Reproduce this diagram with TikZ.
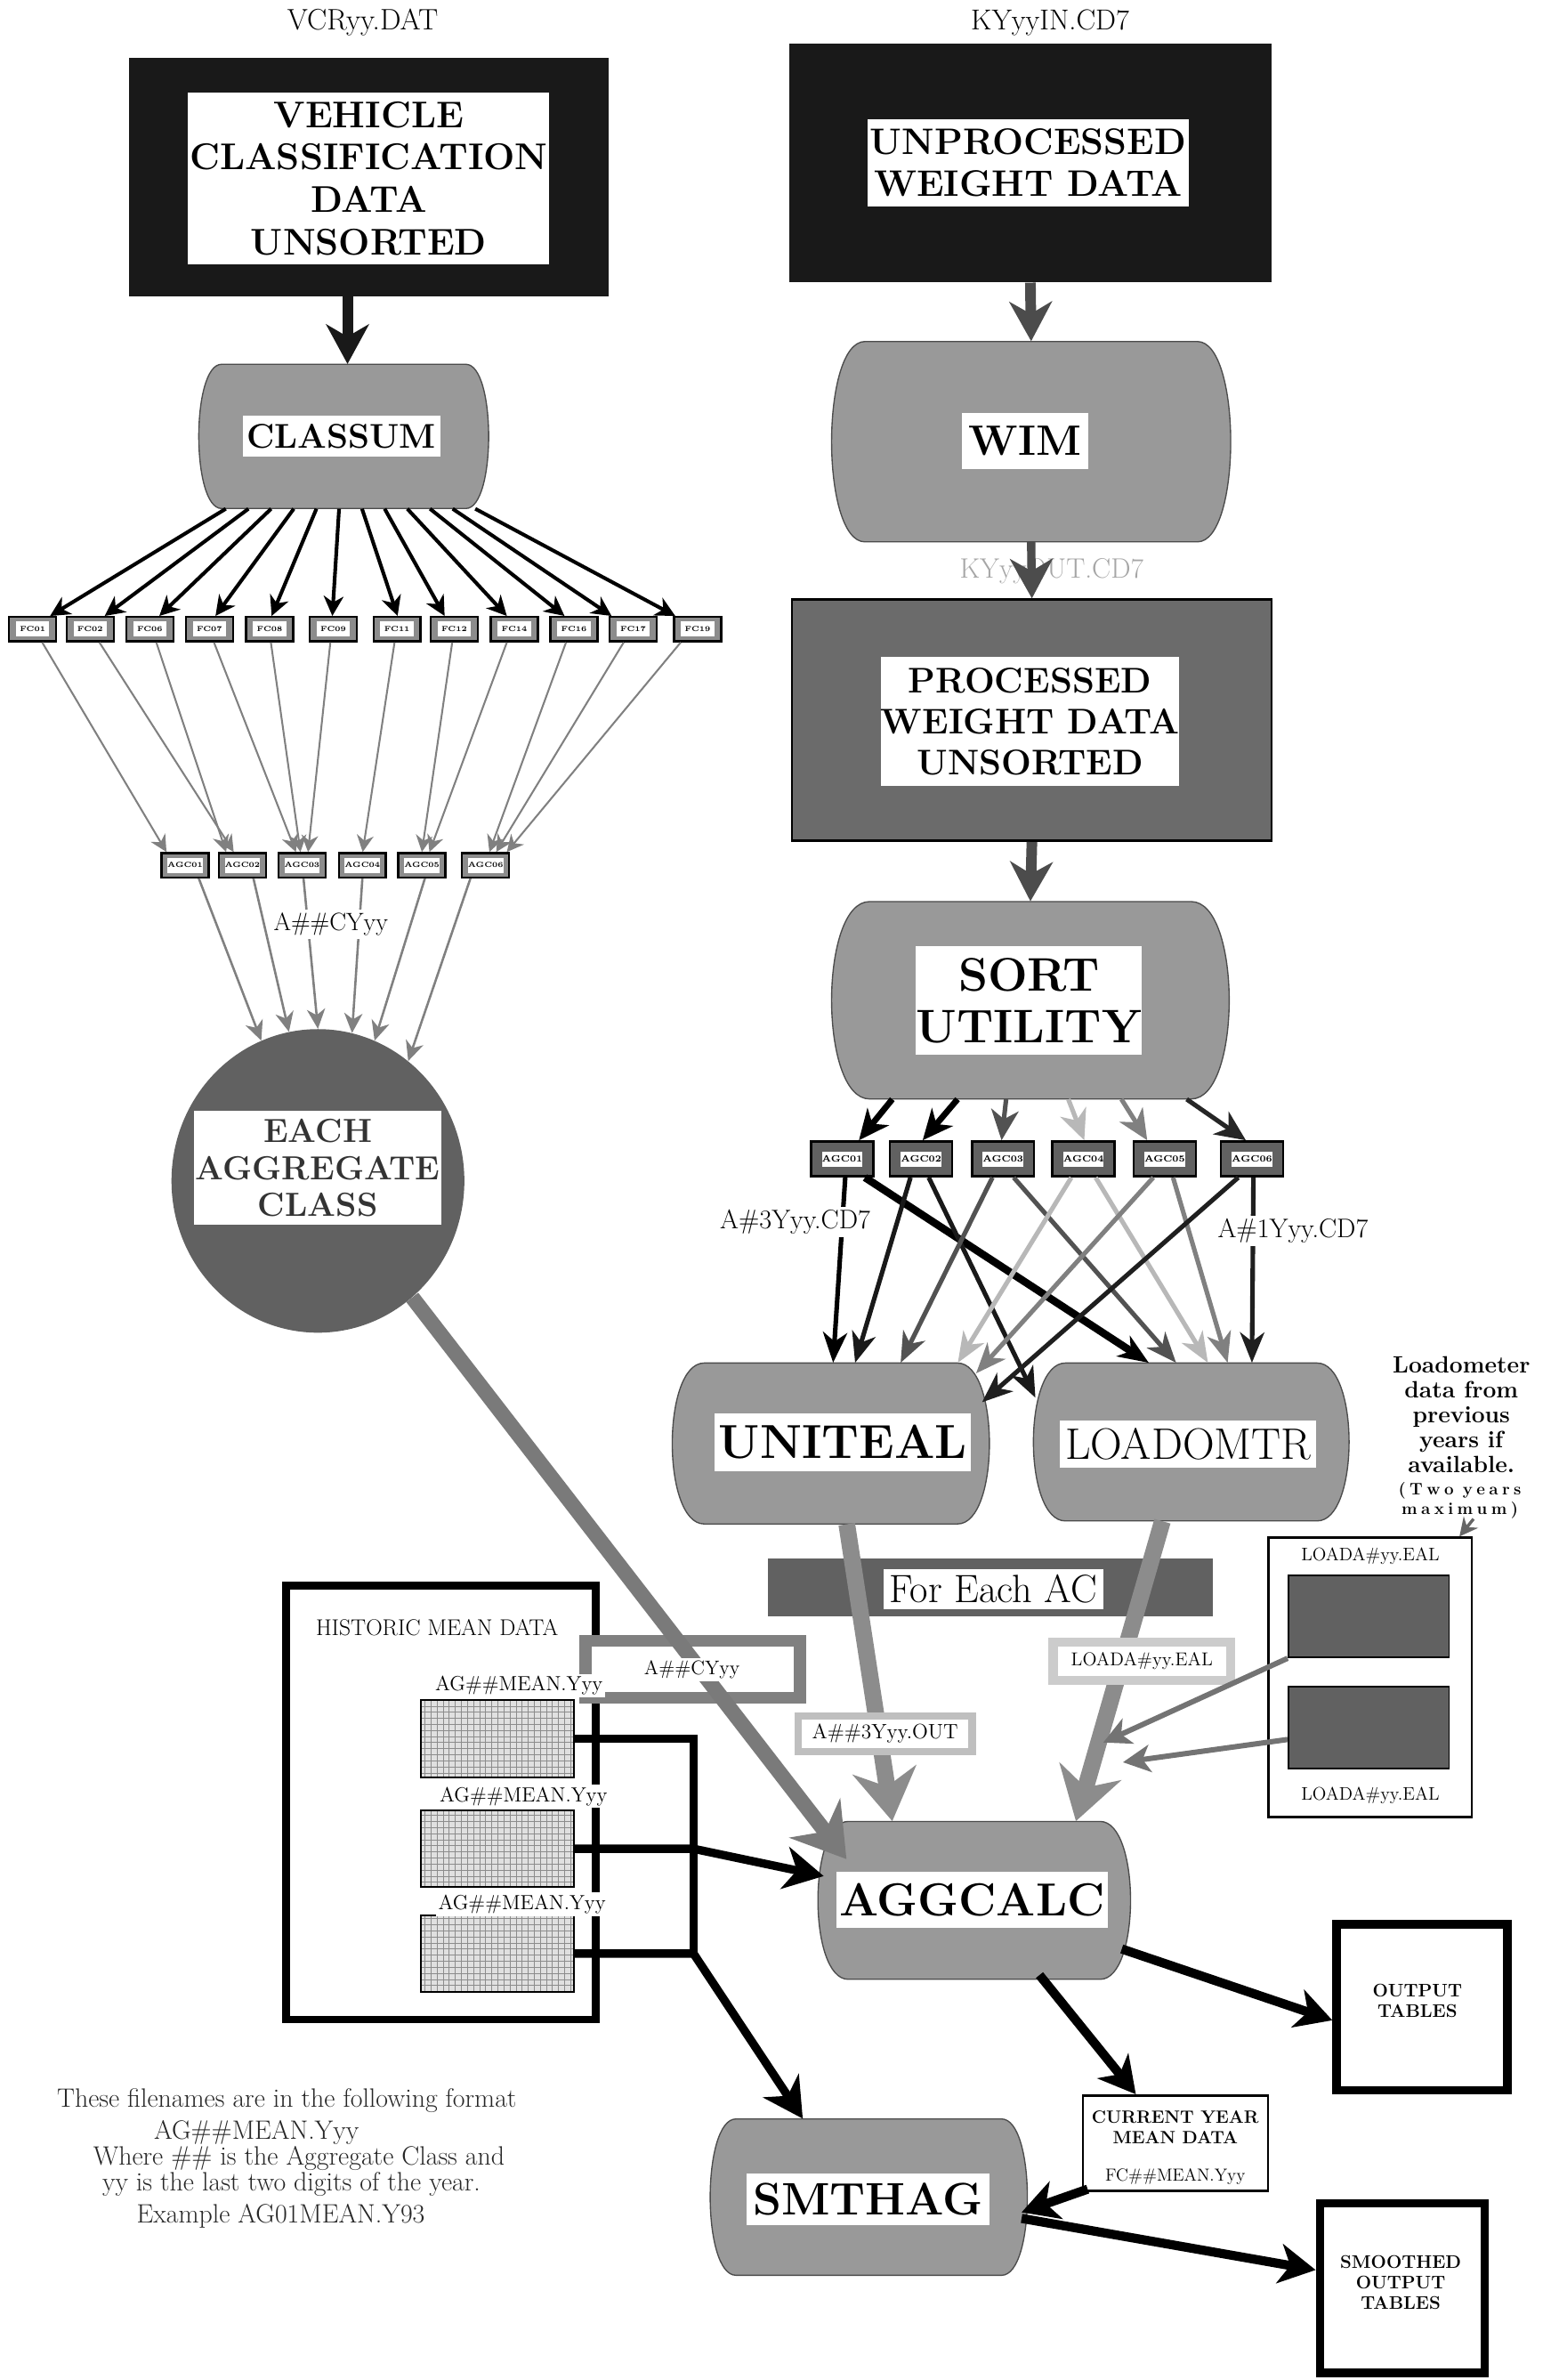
\documentclass[tikz,border=0pt]{standalone}
\usepackage{fontspec}
\usetikzlibrary{arrows.meta,calc,shapes.geometric}
\newcommand\fsz[2]{\fontsize{#1}{#2}\selectfont}
\newcommand\ks{\kern2.6pt}
\newcommand\rnode[6][]{\node[rectangle,inner sep=0pt,minimum width={(#5-#3)*1pt},minimum height={(#6-#4)*1pt},#1] (#2) at ({(#3+#5)/2},{(#4+#6)/2})}
\newcommand\barrel[6]{%
  \filldraw[barrelsty] ({#2+#6},#3) -- ({#4-#6},#3)
    .. controls ({#4+#6/3},#3) and ({#4+#6/3},#5) .. ({#4-#6},#5)
    -- ({#2+#6},#5)
    .. controls ({#2-#6/3},#5) and ({#2-#6/3},#3) .. cycle;
  \rnode{#1}{#2}{#3}{#4}{#5} {};}
\tikzset{
  barrelsty/.style={fill=black!40,draw=black!70,line width=0.8pt},
  tl/.style={fill=white,inner sep=0pt,align=center},
  smbox/.style={draw=black,line width=1.4pt,fill=black!45,minimum width=31pt,minimum height=16pt,inner sep=0pt},
  smin/.style={fill=white,inner sep=0pt,minimum width=22pt,minimum height=10pt,font=\bfseries\fsz{4.8}{5}},
  agrbox/.style={draw=black,line width=1.5pt,fill=black!62,minimum width=41pt,minimum height=23pt,inner sep=0pt},
  agrin/.style={fill=white,inner sep=0pt,minimum width=25pt,minimum height=10pt,font=\bfseries\fsz{6}{7}},
  fcarrow/.style={line width=2.4pt,black,-{Stealth[length=13pt,width=13pt,inset=4pt]}},
  grayfan/.style={line width=1.2pt,black!50,-{Stealth[length=11pt,width=11pt,inset=3.5pt]}},
  grayfan2/.style={line width=1.5pt,black!50,-{Stealth[length=13pt,width=12pt,inset=4pt]}},
  bigdark/.style={line width=7pt,-{Stealth[length=26pt,width=28pt,inset=8pt]}},
  sortarr/.style={-{Stealth[length=20pt,width=18pt,inset=6pt]}},
  crossarr/.style={line width=3pt,-{Stealth[length=20pt,width=16pt,inset=6pt]}},
  widearrow/.style={line width=11pt,-{Stealth[length=34pt,width=42pt,inset=11pt]}},
  histline/.style={line width=5.5pt,black},
  histarrow/.style={histline,-{Stealth[length=26pt,width=28pt,inset=8pt]}},
  blackthick/.style={line width=6pt,black,-{Stealth[length=24pt,width=26pt,inset=7pt]}},
  grayarrow/.style={line width=3.5pt,black!55,-{Stealth[length=18pt,width=18pt,inset=5pt]}},
  gridbox/.style={fill=black!12},
}
\begin{document}
\begin{tikzpicture}[x=1pt,y=-1pt]
\useasboundingbox (0,0) rectangle (1027,1568);
\fill[white] (0,0) rectangle (1027,1568);

% ================= left column =================
\node[font=\fsz{19.5}{21}] (vcr) at (239,15) {VCRyy.DAT};
\rnode[fill=black!90]{veh}{85}{38}{401}{195} {};
\rnode[tl,font=\bfseries\fsz{24.5}{28}]{vehl}{124}{61}{362}{174} {VEHICLE\\CLASSIFICATION\\DATA\\UNSORTED};
\barrel{classum}{131}{240}{322}{335}{15}
\rnode[tl,font=\bfseries\fsz{22.6}{24}]{classuml}{160}{274}{290}{301} {CLASSUM};
\draw[bigdark,black!90] ([xshift=-14pt]veh.south) -- ([xshift=2.5pt]classum.north);

\foreach \na/\xa in {01/21.5,02/59.4,06/98.7,07/138,08/177.7,09/219.6,11/261.6,12/299.3,14/338.9,16/378.2,17/417.2,19/459.7}{
  \node[smbox] (fc\na) at (\xa,414.5) {};
  \node[smin] (fcl\na) at (fc\na) {FC\na};
}
\foreach \na/\fa/\da in {01/0.094/11.5,02/0.172/9.6,06/0.250/6.3,07/0.328/4,08/0.406/1.3,09/0.484/-0.6,11/0.563/0.4,12/0.641/-6.3,14/0.719/-4.9,16/0.797/-6.2,17/0.875/-14.2,19/0.953/-14.7}
  \draw[fcarrow] ($(classum.south west)!\fa!(classum.south east)$) -- ([xshift=\da pt]fc\na.north);

\foreach \ia/\xa in {1/122,2/159.7,3/199,4/238.8,5/278,6/320}{
  \node[smbox] (agl\ia) at (\xa,570) {};
  \node[smin] (agll\ia) at (agl\ia) {AGC0\ia};
}
\foreach \na/\sa/\tb/\eb in {01/6.3/1/-12.3,02/6.1/2/-5.7,06/4.3/2/-10.7,07/3/3/-4,08/0.8/3/-1,09/-1.9/3/4,11/-1.6/4/0.2,12/-1.3/5/0,14/-4.9/5/5,16/-5.2/6/2.5,17/-6.2/6/7,19/-11.1/6/14}
  \draw[grayfan] ([xshift=\sa pt]fc\na.south) -- ([xshift=\eb pt]agl\tb.north);

\node[ellipse,fill=black!62,minimum width=193pt,minimum height=200pt,inner sep=0pt] (each) at (209.5,778) {};
\rnode[tl,font=\bfseries\fsz{22}{24.5},text=black!80]{eachl}{128}{732}{291}{807} {EACH\\AGGREGATE\\CLASS};
\foreach \ia/\sa/\ang in {1/9/112,2/7.3/101,3/1/90,4/0/77,5/2/68,6/-10/53}
  \draw[grayfan2] ([xshift=\sa pt]agl\ia.south) -- (each.\ang);
\node[tl,font=\fsz{16.5}{18},inner sep=2pt] (acy1) at (218,609) {A\#\#CYyy};

% ================= right column =================
\node[font=\fsz{19}{21}] (kyin) at (692,15) {KYyyIN.CD7};
\rnode[fill=black!90]{unproc}{520}{29}{838}{186} {};
\rnode[tl,font=\bfseries\fsz{24.3}{28}]{unprocl}{571.5}{78.5}{783.5}{136} {UNPROCESSED\\WEIGHT DATA};
\barrel{wim}{548}{225}{811}{357}{22}
\rnode[tl,font=\bfseries\fsz{28}{30}]{wiml}{634}{272}{717}{309} {WIM};
\draw[bigdark,black!70] (unproc.south) -- (wim.north);
\node[font=\fsz{18.5}{20},text=black!35] (kyout) at (693,376) {KYyyOUT.CD7};
\rnode[fill=black!58,draw=black,line width=1.5pt]{proc}{522}{395}{838}{554} {};
\rnode[tl,font=\bfseries\fsz{23.5}{27}]{procl}{580.5}{432.5}{777}{518} {PROCESSED\\WEIGHT DATA\\UNSORTED};
\draw[bigdark,black!70,line width=5.5pt] (wim.south) -- (proc.north);
\barrel{sort}{548}{594}{810}{724}{25}
\rnode[tl,font=\bfseries\fsz{31}{34}]{sortl}{603.5}{623.5}{752.5}{695} {SORT\\UTILITY};
\draw[bigdark,black!70] (proc.south) -- (sort.north);

\foreach \ia/\xa in {1/555,2/607,3/661,4/714,5/767.5,6/825}{
  \node[agrbox] (agr\ia) at (\xa,763.5) {};
  \node[agrin] (agrl\ia) at (agr\ia) {AGC0\ia};
}
\foreach \ia/\sa/\ea/\ca/\wa in {1/-91/11/black/4,2/-48/1/black/4,3/-16/-1/black!68/3,4/25/0.5/black!28/3,5/60/-11.5/black!50/3,6/103/-4/black!85/3}
  \draw[sortarr,line width=\wa pt,\ca] ([xshift=\sa pt]sort.south) -- ([xshift=\ea pt]agr\ia.north);

\barrel{uniteal}{443}{898}{652}{1004}{21}
\rnode[tl,font=\bfseries\fsz{31.4}{33}]{unitealL}{471}{931}{640}{969} {UNITEAL};
\barrel{loadomtr}{681}{898}{889}{1002}{21}
\rnode[tl,font=\fsz{29}{30}]{loadomtrl}{698.5}{936}{867.5}{967} {LOADOMTR};

\draw[crossarr,black] ([xshift=2pt]agr1.south) -- ([xshift=1.5pt]uniteal.north);
\draw[crossarr,black,line width=5pt] ([xshift=15pt]agr1.south) -- ([xshift=-28pt]loadomtr.north);
\draw[crossarr,black!90] ([xshift=-7pt]agr2.south) -- ([xshift=16pt]uniteal.north);
\draw[crossarr,black!90] ([xshift=5pt]agr2.south) -- ([xshift=1.5pt,yshift=-23pt]loadomtr.north west);
\draw[crossarr,black!68] ([xshift=-7pt]agr3.south) -- ([xshift=46pt]uniteal.north);
\draw[crossarr,black!68] ([xshift=7pt]agr3.south) -- ([xshift=-10pt]loadomtr.north);
\draw[crossarr,black!28] ([xshift=-8pt]agr4.south) -- ([xshift=-21pt]uniteal.north east);
\draw[crossarr,black!28] ([xshift=8pt]agr4.south) -- ([xshift=11pt]loadomtr.north);
\draw[crossarr,black!50] ([xshift=-7.5pt]agr5.south) -- ([xshift=-9pt,yshift=-7pt]uniteal.north east);
\draw[crossarr,black!50] ([xshift=5.5pt]agr5.south) -- ([xshift=24pt]loadomtr.north);
\draw[crossarr,black!88] ([xshift=-9pt]agr6.south) -- ([xshift=-5pt,yshift=-26pt]uniteal.north east);
\draw[crossarr,black!88] ([xshift=1pt]agr6.south) -- ([xshift=40pt]loadomtr.north);
\node[tl,font=\fsz{17.7}{19},inner sep=2pt] (a3lbl) at (524,805) {A\#3Yyy.CD7};
\node[tl,font=\fsz{17.7}{19},inner sep=2pt] (a1lbl) at (852,811) {A\#1Yyy.CD7};

% loadometer note
\node[font=\bfseries\fsz{15.5}{16.3},align=center,inner sep=0pt] (loadnote) at (963,932) {Loadometer\\data from\\previous\\years if\\available.};
\node[font=\bfseries\fsz{11}{12},inner sep=0pt] (loadnote2) at (962,982) {(\ks T\ks w\ks o\kern6pt y\ks e\ks a\ks r\ks s};
\node[font=\bfseries\fsz{11}{12},inner sep=0pt] (loadnote3) at (962,995) {m\ks a\ks x\ks i\ks m\ks u\ks m\ks )};
\rnode[draw=black,line width=1.5pt,fill=white]{loada}{836}{1013}{970}{1197} {};
\node[font=\fsz{12}{14}] (loadat1) at (903,1025) {LOADA\#yy.EAL};
\rnode[fill=black!62,draw=black,line width=1pt]{lr1}{849}{1038}{955}{1092} {};
\rnode[fill=black!62,draw=black,line width=1pt]{lr2}{849}{1111}{955}{1165} {};
\node[font=\fsz{12}{14}] (loadat2) at (903,1183) {LOADA\#yy.EAL};
\draw[line width=2pt,black!60,-{Stealth[length=12pt,width=12pt,inset=4pt]}] ([xshift=9pt]loadnote3.south) -- ([xshift=-9pt]loada.north east);

% For each AC
\rnode[fill=black!62]{eachac}{506}{1027}{799}{1065} {};
\rnode[tl,font=\fsz{26}{27}]{eachacl}{582}{1034}{727}{1060} {For Each AC};

% AGGCALC
\barrel{aggcalc}{539}{1200}{745}{1304}{20}
\rnode[tl,font=\bfseries\fsz{30.5}{32}]{aggcalcl}{551}{1233}{730}{1270} {AGGCALC};

\draw[widearrow,black!45] ([xshift=10.5pt]uniteal.south) -- ([xshift=-54pt]aggcalc.north);
\draw[widearrow,black!45] ([xshift=-19pt]loadomtr.south) -- ([xshift=67pt]aggcalc.north);
\rnode[draw=black!25,line width=5pt,fill=white]{a3out}{526}{1130.5}{640.5}{1154} {};
\node[font=\fsz{13.7}{15}] (a3outt) at (a3out) {A\#\#3Yyy.OUT};
\rnode[draw=black!20,line width=6pt,fill=white]{ldlbl}{694}{1082}{811}{1107} {};
\node[font=\fsz{12.3}{14}] (ldlblt) at (ldlbl) {LOADA\#yy.EAL};

\coordinate (ld1tip) at (727,1148);
\coordinate (ld2tip) at (740,1161);
\draw[grayarrow] (lr1.south west) -- (ld1tip);
\draw[grayarrow] ([yshift=-8pt]lr2.west) -- (ld2tip);

% historic mean data
\rnode[draw=black,line width=5pt]{hist}{188.5}{1044.5}{392.5}{1330.5} {};
\node[font=\fsz{15}{17}] (histt) at (288,1072.5) {HISTORIC MEAN DATA};
\foreach \ga/\ya/\yb in {1/1120/1171,2/1193/1243,3/1262/1312}{
  \rnode[gridbox]{g\ga}{277.5}{\ya}{378}{\yb} {};
  \draw[black!45,line width=0.35pt,step=4pt] (g\ga.south west) grid (g\ga.north east);
  \draw[black,line width=1.2pt] (g\ga.south west) rectangle (g\ga.north east);
}

\rnode[draw=black!50,line width=8pt,fill=white]{acybox}{386}{1081}{527}{1118.5} {};
\draw[widearrow,line width=10pt,black!52] (each.-51) -- ([xshift=19pt,yshift=-25pt]aggcalc.north west);
\node[tl,font=\fsz{13}{14},inner sep=1.5pt] (acyt) at (456,1100) {A\#\#CYyy};
\node[tl,font=\fsz{13.5}{15},inner sep=1.5pt] (m1) at (342,1110.5) {AG\#\#MEAN.Yyy};
\node[tl,font=\fsz{13.5}{15},inner sep=1.5pt] (m2) at (345,1183.5) {AG\#\#MEAN.Yyy};
\node[tl,font=\fsz{13.5}{15},inner sep=1.5pt] (m3) at (344,1254.5) {AG\#\#MEAN.Yyy};

% SMTHAG and outputs
\barrel{smthag}{468}{1396}{677}{1499}{17}
\rnode[tl,font=\bfseries\fsz{30}{31}]{smthagl}{492}{1432}{652}{1466} {SMTHAG};

\coordinate (bus) at (457,1287);
\draw[histline] (g1.east) -| (bus);
\draw[histarrow] (g2.east) -- (g2.east -| bus) -- ([xshift=4pt,yshift=16pt]aggcalc.west);
\draw[histarrow] (g3.east) -- (bus) -- ([xshift=-43.5pt]smthag.north);

\rnode[draw=black,line width=5.5pt,fill=white]{output}{880.75}{1267.75}{993.25}{1377.25} {};
\node[font=\bfseries\fsz{12}{13.5},align=center] (outputt) at (934,1318) {OUTPUT\\TABLES};
\rnode[draw=black,line width=5.5pt,fill=white]{smoothed}{869.75}{1451.75}{978.25}{1563.25} {};
\node[font=\bfseries\fsz{12}{13.5},align=center] (smoothedt) at (923,1504) {SMOOTHED\\OUTPUT\\TABLES};
\rnode[draw=black,line width=1.5pt,fill=white]{current}{713.5}{1380.5}{835.5}{1443.5} {};
\node[font=\bfseries\fsz{11.7}{13},align=center] (curt) at (774.5,1401.5) {CURRENT YEAR\\MEAN DATA};
\node[font=\fsz{11.5}{13}] (curt2) at (774.5,1434) {FC\#\#MEAN.Yyy};

\draw[blackthick] ([xshift=-6pt,yshift=-32pt]aggcalc.east) -- ([yshift=-8.5pt]output.west);
\draw[blackthick] ([xshift=43pt,yshift=3pt]aggcalc.south) -- ([xshift=-26pt]current.north);
\draw[blackthick] ([xshift=4pt,yshift=2pt]current.south west) -- ([xshift=-4pt,yshift=-10pt]smthag.east);
\draw[blackthick] ([xshift=-4pt,yshift=-14pt]smthag.east) -- ([yshift=12pt]smoothed.west);

% note text
\begin{scope}[every node/.style={font=\fsz{17.5}{19},text=black!85}]
\node (note1) at (189,1384) {These filenames are in the following format};
\node (note2) at (169,1405) {AG\#\#MEAN.Yyy};
\node (note3) at (197,1422) {Where \#\# is the Aggregate Class and};
\node (note4) at (192,1439) {yy is the last two digits of the year.};
\node (note5) at (185,1460) {Example AG01MEAN.Y93};
\end{scope}
\end{tikzpicture}
\end{document}
